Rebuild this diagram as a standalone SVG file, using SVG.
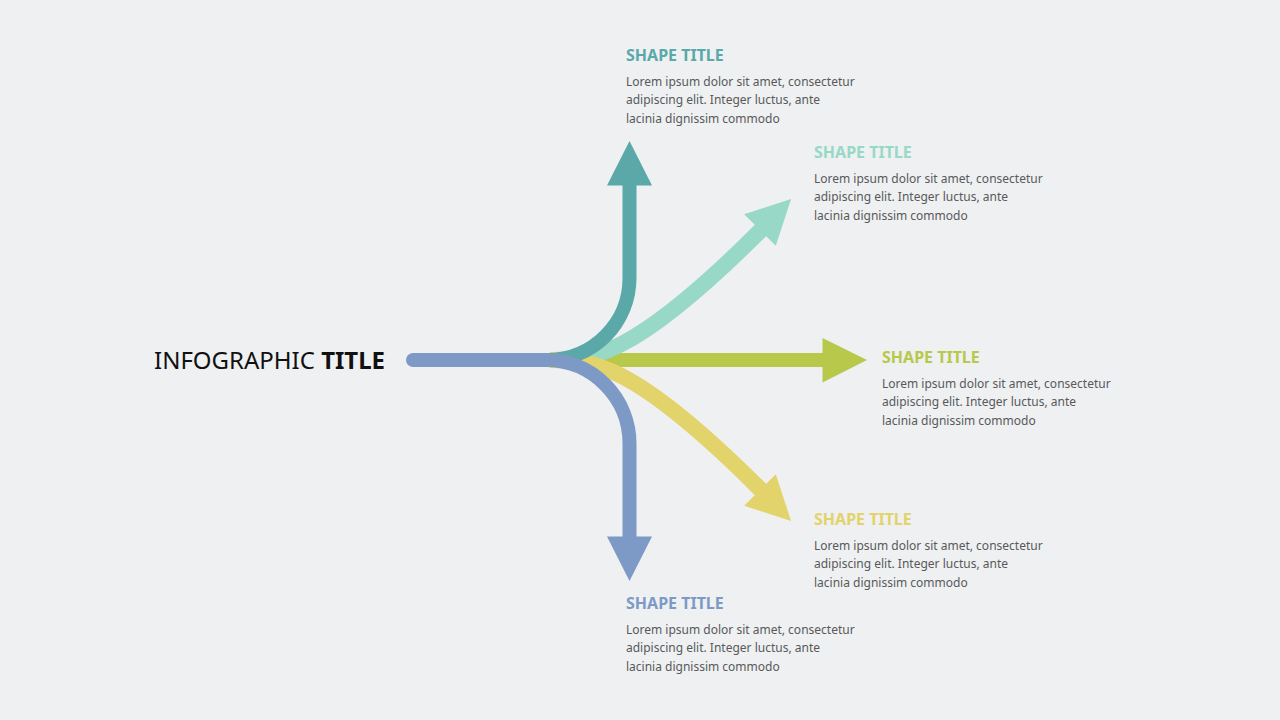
<svg xmlns="http://www.w3.org/2000/svg" width="1280" height="720" viewBox="0 0 1280 720">
<style>
.ln{fill:none;stroke-width:14;stroke-linecap:butt}
.dg{stroke-width:16}
.ttl{font-family:"Noto Sans","Open Sans",sans-serif;font-size:16px;font-weight:bold}
.bd{font-family:"Noto Sans","Open Sans",sans-serif;font-size:12px;fill:#595959}
.main{font-family:"Noto Sans","Open Sans",sans-serif;font-size:24px;fill:#111}
</style>
<rect width="1280" height="720" fill="#EEF0F2"/>
<g id="connectors">
<g id="arrow-green">
<path class="ln" d="M560 360 H823" stroke="#B8C84A"/>
<polygon points="822.5,338 822.5,382.5 867,360" fill="#B8C84A"/>
</g>
<g id="arrow-mint">
<path class="ln dg" d="M550 360 C590 360 630 361 761 230" stroke="#98D8C6"/>
<polygon points="744.2,214.2 775.8,245.8 791.1,198.9" fill="#98D8C6"/>
</g>
<g id="arrow-yellow">
<path class="ln dg" d="M550 360 C590 360 630 359 761 490" stroke="#E2D36B"/>
<polygon points="744.2,505.8 775.8,474.2 791.1,521.1" fill="#E2D36B"/>
</g>
<g id="arrow-teal">
<path class="ln" d="M547.5 360 A82 82 0 0 0 629.5 278 V184" stroke="#5AA8A8"/>
<polygon points="607,185.5 652,185.5 629.5,141" fill="#5AA8A8"/>
</g>
<g id="arrow-blue">
<path class="ln" d="M413 360 H546 A83.5 83.5 0 0 1 629.5 443.5 V538" stroke="#7D9AC7"/>
<circle cx="413" cy="360" r="7" fill="#7D9AC7"/>
<polygon points="607,536.5 652,536.5 629.5,581" fill="#7D9AC7"/>
</g>
</g>
<g id="title">
<text class="main" x="154" y="368.5">INFOGRAPHIC <tspan font-weight="bold">TITLE</tspan></text>
</g>
<g id="node-teal">
<text class="ttl" x="626" y="61" fill="#5AA8A8">SHAPE TITLE</text>
<text class="bd" x="626" y="85.5">Lorem ipsum dolor sit amet, consectetur</text>
<text class="bd" x="626" y="104">adipiscing elit. Integer luctus, ante</text>
<text class="bd" x="626" y="122.5">lacinia dignissim commodo</text>
</g>
<g id="node-mint">
<text class="ttl" x="814" y="158" fill="#98D8C6">SHAPE TITLE</text>
<text class="bd" x="814" y="182.5">Lorem ipsum dolor sit amet, consectetur</text>
<text class="bd" x="814" y="201">adipiscing elit. Integer luctus, ante</text>
<text class="bd" x="814" y="219.5">lacinia dignissim commodo</text>
</g>
<g id="node-green">
<text class="ttl" x="882" y="363" fill="#B8C84A">SHAPE TITLE</text>
<text class="bd" x="882" y="387.5">Lorem ipsum dolor sit amet, consectetur</text>
<text class="bd" x="882" y="406">adipiscing elit. Integer luctus, ante</text>
<text class="bd" x="882" y="424.5">lacinia dignissim commodo</text>
</g>
<g id="node-yellow">
<text class="ttl" x="814" y="525" fill="#E2D36B">SHAPE TITLE</text>
<text class="bd" x="814" y="549.5">Lorem ipsum dolor sit amet, consectetur</text>
<text class="bd" x="814" y="568">adipiscing elit. Integer luctus, ante</text>
<text class="bd" x="814" y="586.5">lacinia dignissim commodo</text>
</g>
<g id="node-blue">
<text class="ttl" x="626" y="609" fill="#7D9AC7">SHAPE TITLE</text>
<text class="bd" x="626" y="633.5">Lorem ipsum dolor sit amet, consectetur</text>
<text class="bd" x="626" y="652">adipiscing elit. Integer luctus, ante</text>
<text class="bd" x="626" y="670.5">lacinia dignissim commodo</text>
</g>
</svg>
